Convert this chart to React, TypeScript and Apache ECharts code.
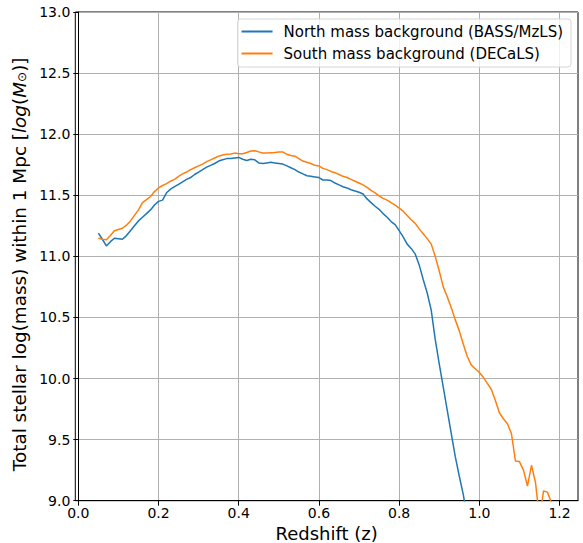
import React, { useEffect, useRef } from "react";
import * as echarts from "echarts";

const northZ = [0.05,0.06,0.07,0.08,0.09,0.10,0.11,0.12,0.13,0.14,0.15,0.16,0.17,0.18,0.19,0.20,0.21,0.22,0.23,0.24,0.25,0.26,0.27,0.28,0.29,0.30,0.31,0.32,0.33,0.34,0.35,0.36,0.37,0.38,0.39,0.40,0.41,0.42,0.43,0.44,0.45,0.46,0.47,0.48,0.49,0.50,0.51,0.52,0.53,0.54,0.55,0.56,0.57,0.58,0.59,0.60,0.61,0.62,0.63,0.64,0.65,0.66,0.67,0.68,0.69,0.70,0.71,0.72,0.73,0.74,0.75,0.76,0.77,0.78,0.79,0.80,0.81,0.82,0.83,0.84,0.85,0.86,0.87,0.88,0.89,0.90,0.91,0.92,0.93,0.94,0.95,0.96,0.97];
const northMass = [11.19,11.14,11.085,11.12,11.148,11.145,11.14,11.17,11.21,11.25,11.29,11.32,11.35,11.38,11.42,11.45,11.46,11.52,11.55,11.57,11.59,11.61,11.63,11.645,11.67,11.69,11.71,11.73,11.745,11.76,11.78,11.79,11.80,11.80,11.805,11.81,11.795,11.785,11.795,11.79,11.765,11.76,11.765,11.77,11.765,11.76,11.755,11.74,11.725,11.71,11.69,11.675,11.66,11.655,11.65,11.645,11.625,11.625,11.62,11.60,11.585,11.57,11.56,11.545,11.535,11.525,11.51,11.47,11.44,11.41,11.385,11.35,11.32,11.285,11.26,11.21,11.16,11.10,11.065,11.02,10.93,10.81,10.70,10.56,10.32,10.12,9.93,9.74,9.55,9.36,9.20,9.05,8.85];

const southZ = [0.05,0.06,0.07,0.08,0.09,0.10,0.11,0.12,0.13,0.14,0.15,0.16,0.17,0.18,0.19,0.20,0.21,0.22,0.23,0.24,0.25,0.26,0.27,0.28,0.29,0.30,0.31,0.32,0.33,0.34,0.35,0.36,0.37,0.38,0.39,0.40,0.41,0.42,0.43,0.44,0.45,0.46,0.47,0.48,0.49,0.50,0.51,0.52,0.53,0.54,0.55,0.56,0.57,0.58,0.59,0.60,0.61,0.62,0.63,0.64,0.65,0.66,0.67,0.68,0.69,0.70,0.71,0.72,0.73,0.74,0.75,0.76,0.77,0.78,0.79,0.80,0.81,0.82,0.83,0.84,0.85,0.86,0.87,0.88,0.89,0.90,0.91,0.92,0.93,0.94,0.95,0.96,0.97,0.98,0.99,1.00,1.01,1.02,1.03,1.04,1.05,1.06,1.07,1.08,1.09,1.10,1.11,1.12,1.13,1.14,1.15,1.16,1.17,1.18,1.19];
const southMass = [11.148,11.14,11.135,11.17,11.21,11.22,11.23,11.255,11.29,11.335,11.38,11.44,11.465,11.49,11.53,11.56,11.58,11.595,11.615,11.63,11.655,11.675,11.69,11.71,11.725,11.74,11.755,11.775,11.79,11.805,11.82,11.83,11.835,11.838,11.845,11.84,11.84,11.85,11.862,11.865,11.855,11.846,11.845,11.848,11.85,11.855,11.855,11.835,11.825,11.82,11.80,11.78,11.77,11.76,11.745,11.74,11.72,11.71,11.695,11.685,11.67,11.655,11.645,11.63,11.615,11.60,11.585,11.565,11.54,11.52,11.495,11.475,11.46,11.44,11.42,11.395,11.37,11.335,11.30,11.27,11.225,11.185,11.145,11.10,11.00,10.88,10.75,10.67,10.58,10.48,10.39,10.28,10.18,10.11,10.08,10.05,10.01,9.96,9.91,9.82,9.72,9.67,9.63,9.55,9.325,9.32,9.25,9.12,9.29,9.15,8.85,9.08,9.07,8.98,8.85];

const xTicks = [0.0, 0.2, 0.4, 0.6, 0.8, 1.0, 1.2];
const seriesNames = ["North mass background (BASS/MzLS)", "South mass background (DECaLS)"];
const FONT = "DejaVu Sans";

export default function App() {
  const ref = useRef<HTMLDivElement>(null);
  useEffect(() => {
    if (!ref.current) return;
    const chart = echarts.init(ref.current, null, { renderer: "svg" });
    const north = northZ.map((z, i) => [z, northMass[i]]);
    const south = southZ.map((z, i) => [z, southMass[i]]);
    chart.setOption({
      animation: false,
      backgroundColor: "#ffffff",
      textStyle: { fontFamily: FONT },
      grid: {
        left: 75.3,
        right: 5,
        top: 12,
        bottom: 42.3,
        containLabel: false,
        outerBoundsMode: "none",
        show: true,
        borderColor: "#000000",
        borderWidth: 1,
        backgroundColor: "transparent",
      },
      legend: {
        orient: "vertical",
        right: 12,
        top: 19,
        data: seriesNames,
        icon: "rect",
        itemWidth: 31,
        itemHeight: 2,
        itemGap: 7,
        padding: [5, 8, 6, 4],
        backgroundColor: "rgba(255,255,255,0.8)",
        borderColor: "#d6d6d6",
        borderWidth: 1,
        borderRadius: 3,
        textStyle: { fontFamily: FONT, fontSize: 15, color: "#000", padding: [0, 0, 0, 6] },
      },
      xAxis: {
        type: "value",
        min: -0.0075,
        max: 1.246,
        splitNumber: 6,
        name: "Redshift (z)",
        nameLocation: "middle",
        nameGap: 19,
        nameTextStyle: { fontFamily: FONT, fontSize: 18, color: "#000" },
        axisLine: { show: true, onZero: false, lineStyle: { color: "#000", width: 1 } },
        axisTick: { show: true, length: 5, lineStyle: { color: "#000", width: 1 }, customValues: xTicks },
        axisLabel: {
          fontFamily: FONT,
          fontSize: 14,
          color: "#000",
          margin: 5,
          customValues: xTicks,
          formatter: (v: number) => v.toFixed(1),
        },
        splitLine: { show: true, lineStyle: { color: "#b0b0b0", width: 1 } },
      },
      yAxis: {
        type: "value",
        min: 9,
        max: 13,
        interval: 0.5,
        name: "Total stellar log(mass) within 1 Mpc [{it|log}({it|M}{sub|⊙})]",
        nameLocation: "middle",
        nameGap: 34,
        nameRotate: 90,
        nameTextStyle: {
          fontFamily: FONT,
          fontSize: 18.4,
          color: "#000",
          padding: [0, 16, 0, 0],
          rich: {
            it: { fontFamily: FONT, fontSize: 18.4, fontStyle: "italic", color: "#000" },
            sub: { fontFamily: FONT, fontSize: 12, color: "#000", verticalAlign: "bottom", padding: [6, 0, 0, 0] },
          },
        },
        axisLine: { show: true, lineStyle: { color: "#000", width: 1 } },
        axisTick: { show: true, length: 5, lineStyle: { color: "#000", width: 1 } },
        axisLabel: {
          fontFamily: FONT,
          fontSize: 14,
          color: "#000",
          margin: 5,
          formatter: (v: number) => v.toFixed(1),
        },
        splitLine: { show: true, lineStyle: { color: "#b0b0b0", width: 1 } },
      },
      series: [
        {
          name: seriesNames[0],
          type: "line",
          data: north,
          showSymbol: false,
          symbol: "none",
          clip: true,
          color: "#1f77b4",
          lineStyle: { color: "#1f77b4", width: 1.5 },
        },
        {
          name: seriesNames[1],
          type: "line",
          data: south,
          showSymbol: false,
          symbol: "none",
          clip: true,
          color: "#ff7f0e",
          lineStyle: { color: "#ff7f0e", width: 1.5 },
        },
      ],
    });
    return () => chart.dispose();
  }, []);
  return (
    <div
      ref={ref}
      style={{ position: "fixed", left: 0, top: 0, width: 583, height: 543 }}
    />
  );
}
